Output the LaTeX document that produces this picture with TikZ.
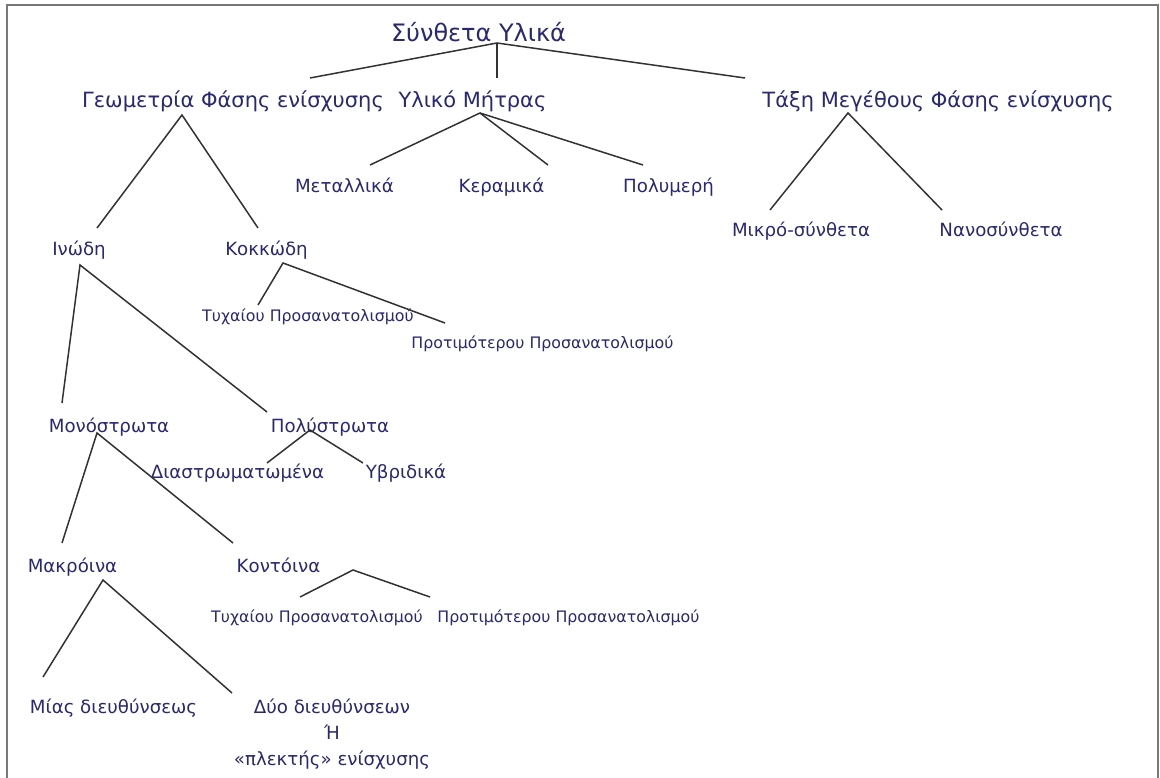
\documentclass[tikz,border=0pt]{standalone}
\usepackage{fontspec}
\setmainfont{DejaVu Sans}
\definecolor{txt}{RGB}{40,40,115}
\definecolor{ln}{RGB}{50,50,50}
\definecolor{frm}{RGB}{120,120,120}
\begin{document}
\begin{tikzpicture}[x=1pt,y=-1pt,
  lbl/.style={anchor=base,inner sep=0pt,text=txt},
  lvA/.style={lbl,font=\fontsize{24}{30}\selectfont},
  lvB/.style={lbl,font=\fontsize{21}{26}\selectfont},
  lvC/.style={lbl,font=\fontsize{18.2}{26}\selectfont},
  lvD/.style={lbl,font=\fontsize{15.8}{20}\selectfont},
  edge/.style={draw=ln,line width=1.5pt}]
\useasboundingbox (0,0) rectangle (1160,778);
\draw[frm,line width=1.6pt] (7,782) -- (7,5) -- (1158,5) -- (1158,782);
% texts
\node[lvA] (root) at (478.5,42) {Σύνθετα Υλικά};
\node[lvB] (geo) at (233,108) {Γεωμετρία Φάσης ενίσχυσης};
\node[lvB] (ylm) at (472.5,108) {Υλικό Μήτρας};
\node[lvB] (tax) at (938,108) {Τάξη Μεγέθους Φάσης ενίσχυσης};
\node[lvC] (met) at (344.5,193) {Μεταλλικά};
\node[lvC] (ker) at (501.5,193) {Κεραμικά};
\node[lvC] (pol) at (668.5,193) {Πολυμερή};
\node[lvC] (mik) at (801,237) {Μικρό-σύνθετα};
\node[lvC] (nan) at (1001,237) {Νανοσύνθετα};
\node[lvC] (ino) at (79,256) {Ινώδη};
\node[lvC] (kok) at (266.5,256) {Κοκκώδη};
\node[lvD] (tyA) at (308,322) {Τυχαίου Προσανατολισμού};
\node[lvD] (prA) at (542.5,348) {Προτιμότερου Προσανατολισμού};
\node[lvC] (mon) at (109,432) {Μονόστρωτα};
\node[lvC] (pls) at (330,432) {Πολύστρωτα};
\node[lvC] (dia) at (237.5,478) {Διαστρωματωμένα};
\node[lvC] (ybr) at (406,478) {Υβριδικά};
\node[lvC] (mak) at (72.5,572) {Μακρόινα};
\node[lvC] (kon) at (278.5,572) {Κοντόινα};
\node[lvD] (tyB) at (317,622) {Τυχαίου Προσανατολισμού};
\node[lvD] (prB) at (568.5,622) {Προτιμότερου Προσανατολισμού};
\node[lvC] (mia) at (113.5,713) {Μίας διευθύνσεως};
\node[lvC,align=center] (dyo) at (332,765) {Δύο διευθύνσεων\\Ή\\«πλεκτής» ενίσχυσης};
% connector points
\coordinate (rootB) at (497,43);
\coordinate (geoT) at (310,78);
\coordinate (ylmT) at (497,78);
\coordinate (taxT) at (745,78);
\coordinate (ylmB) at (480,113);
\coordinate (metT) at (370,165);
\coordinate (kerT) at (548,165);
\coordinate (polT) at (643,165);
\coordinate (geoB) at (182,115);
\coordinate (inoT) at (97,228);
\coordinate (kokT) at (258,228);
\coordinate (taxB) at (848,113);
\coordinate (mikT) at (770,210);
\coordinate (nanT) at (942,210);
\coordinate (inoB) at (80,265);
\coordinate (monT) at (62,403);
\coordinate (plsT) at (267,412);
\coordinate (kokB) at (283,263);
\coordinate (tyAT) at (258,305);
\coordinate (prAT) at (445,323);
\coordinate (monB) at (97,433);
\coordinate (makT) at (62,543);
\coordinate (konT) at (233,543);
\coordinate (plsB) at (310,430);
\coordinate (diaT) at (267,463);
\coordinate (ybrT) at (363,463);
\coordinate (makB) at (103,580);
\coordinate (miaT) at (43,677);
\coordinate (dyoT) at (232,693);
\coordinate (konB) at (353,570);
\coordinate (tyBT) at (300,597);
\coordinate (prBT) at (430,597);
% connectors
\draw[edge] (geoT) -- (rootB) -- (taxT);
\draw[edge] (rootB) -- (ylmT);
\draw[edge] (metT) -- (ylmB) -- (polT);
\draw[edge] (ylmB) -- (kerT);
\draw[edge] (inoT) -- (geoB) -- (kokT);
\draw[edge] (mikT) -- (taxB) -- (nanT);
\draw[edge] (monT) -- (inoB) -- (plsT);
\draw[edge] (tyAT) -- (kokB) -- (prAT);
\draw[edge] (makT) -- (monB) -- (konT);
\draw[edge] (diaT) -- (plsB) -- (ybrT);
\draw[edge] (miaT) -- (makB) -- (dyoT);
\draw[edge] (tyBT) -- (konB) -- (prBT);
\end{tikzpicture}
\end{document}
